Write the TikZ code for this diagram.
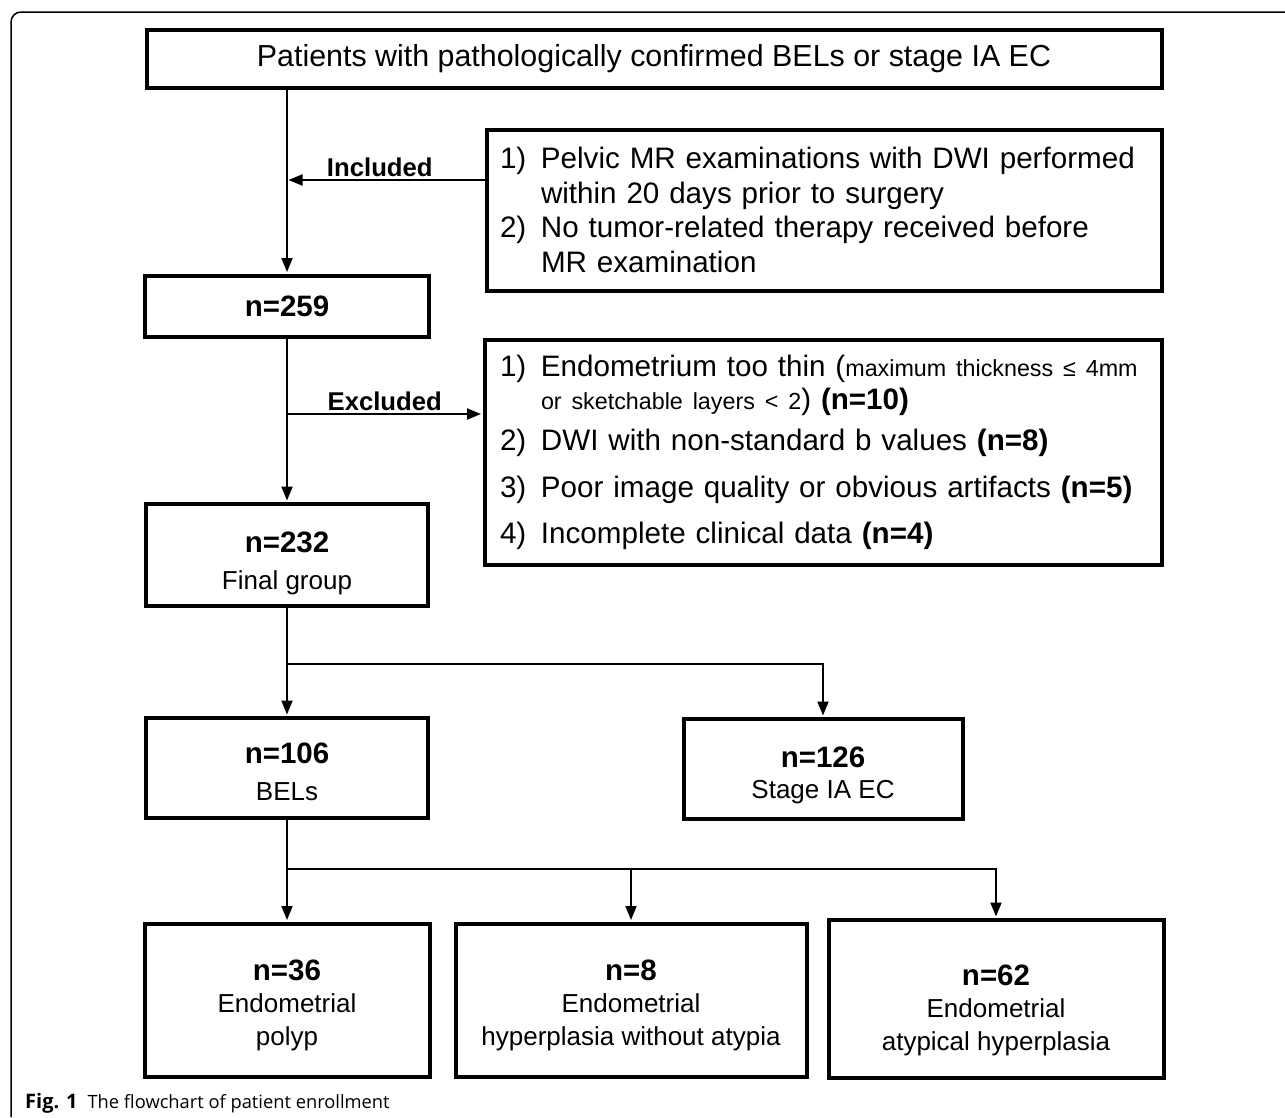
\documentclass[tikz,border=0pt]{standalone}
\usepackage{fontspec}
\setmainfont{Liberation Sans}
\newfontfamily\capfont{Open Sans}
\usetikzlibrary{arrows.meta}
\newcommand{\bnumtxt}[2]{{\rule{0pt}{#1}\bfseries\fontsize{29.5pt}{10pt}\selectfont #2}}
\newcommand{\smtxt}[1]{{\fontsize{23.3pt}{26pt}\selectfont #1}}
\begin{document}
\begin{tikzpicture}[x=1pt,y=-1pt,
  box/.style={draw, line width=4pt, rectangle, inner sep=0pt, align=center},
  conn/.style={line width=2pt},
  arr/.style={line width=2pt, -{Triangle[width=11pt,length=14pt]}, shorten >=1.5pt},
  lab/.style={font=\bfseries\fontsize{25.7pt}{30pt}\selectfont, inner sep=2pt},
  bnum/.style={font=\bfseries\fontsize{29.5pt}{34pt}\selectfont},
]
\useasboundingbox (0,0) rectangle (1285,1117);
% frame
\draw[line width=1.5pt, rounded corners=10pt] (11,1117) -- (11,12) -- (1285,12);

\node[box, minimum width=1015pt, minimum height=58pt, font=\fontsize{30.4pt}{36pt}\selectfont] (top) at (654,59)
  {Patients with pathologically confirmed BELs or stage IA EC};

\node[box, minimum width=675pt, minimum height=161pt, text width=648pt, align=left,
      font=\fontsize{29.6pt}{34.5pt}\selectfont] (incl) at (824,210)
  {\mbox{\makebox[41pt][l]{1)}Pelvic MR examinations with DWI performed}\\
   \mbox{\hspace*{41pt}within 20 days prior to surgery}\\
   \mbox{\makebox[41pt][l]{2)}No tumor-related therapy received before}\\
   \mbox{\hspace*{41pt}MR examination}};

\node[box, bnum, minimum width=284pt, minimum height=61pt] (n259) at (287,306) {n=259};

\node[box, minimum width=677pt, minimum height=225pt, text width=646pt, align=left,
      font=\fontsize{29.6pt}{33pt}\selectfont] (excl) at (823,452)
  {\mbox{\makebox[41pt][l]{1)}Endometrium too thin (\smtxt{maximum thickness ≤ 4mm}}\\
   \mbox{\hspace*{41pt}\smtxt{or sketchable layers < 2}) \textbf{(n=10)}}\\[8pt]
   \mbox{\makebox[41pt][l]{2)}DWI with non-standard b values \textbf{(n=8)}}\\[14pt]
   \mbox{\makebox[41pt][l]{3)}Poor image quality or obvious artifacts \textbf{(n=5)}}\\[13pt]
   \mbox{\makebox[41pt][l]{4)}Incomplete clinical data \textbf{(n=4)}}};

\node[box, minimum width=282pt, minimum height=102pt, font=\fontsize{26pt}{37pt}\selectfont] (n232) at (287,555)
  {\bnumtxt{37pt}{n=232}\\Final group};

\node[box, minimum width=282pt, minimum height=100pt, font=\fontsize{26pt}{37pt}\selectfont] (n106) at (287,768)
  {\bnumtxt{29pt}{n=106}\\BELs};

\node[box, minimum width=279pt, minimum height=100pt, font=\fontsize{26pt}{31pt}\selectfont] (n126) at (823,769)
  {\bnumtxt{33pt}{n=126}\\Stage IA EC};

\node[box, minimum width=285pt, minimum height=153pt, font=\fontsize{26pt}{32.5pt}\selectfont] (n36) at (287,1000)
  {\bnumtxt{31pt}{n=36}\\Endometrial\\polyp};

\node[box, minimum width=351pt, minimum height=153pt, font=\fontsize{26pt}{32.5pt}\selectfont] (n8) at (631,1000)
  {\bnumtxt{31pt}{n=8}\\Endometrial\\hyperplasia without atypia};

\node[box, minimum width=335pt, minimum height=158pt, font=\fontsize{26pt}{32.5pt}\selectfont] (n62) at (996,999)
  {\bnumtxt{43pt}{n=62}\\Endometrial\\atypical hyperplasia};

% caption
\node[anchor=west, inner sep=0pt, font=\capfont] (cap) at (25,1103)
  {{\bfseries\fontsize{20pt}{24pt}\selectfont Fig. 1}\hspace{10pt}{\fontsize{18.3pt}{24pt}\selectfont The flowchart of patient enrollment}};

% connectors
\draw[arr] (top.south -| n259.north) -- (n259.north);
\coordinate (inclpt) at ([yshift=30pt]incl.west);
\draw[arr] (inclpt) -- (inclpt -| n259.north) node[pos=0.53, above, lab] {Included};

\coordinate (exclpt) at ([yshift=38pt]excl.west);
\draw[arr] (exclpt -| n259.south) -- (exclpt) node[midway, above, lab] {Excluded};
\draw[arr] (n259.south) -- (n232.north);

\coordinate (s1) at ([yshift=-56pt]n232.south);
\draw[conn] (n232.south) -- (s1);
\draw[arr] (s1) -- (n106.north);
\draw[arr] (s1) -| (n126.north);

\coordinate (s2) at ([yshift=-49pt]n106.south);
\draw[conn] (n106.south) -- (s2);
\draw[arr] (s2) -- (n36.north);
\draw[arr] (s2) -| (n62.north);
\draw[arr] (s2 -| n8.north) -- (n8.north);
\end{tikzpicture}
\end{document}
